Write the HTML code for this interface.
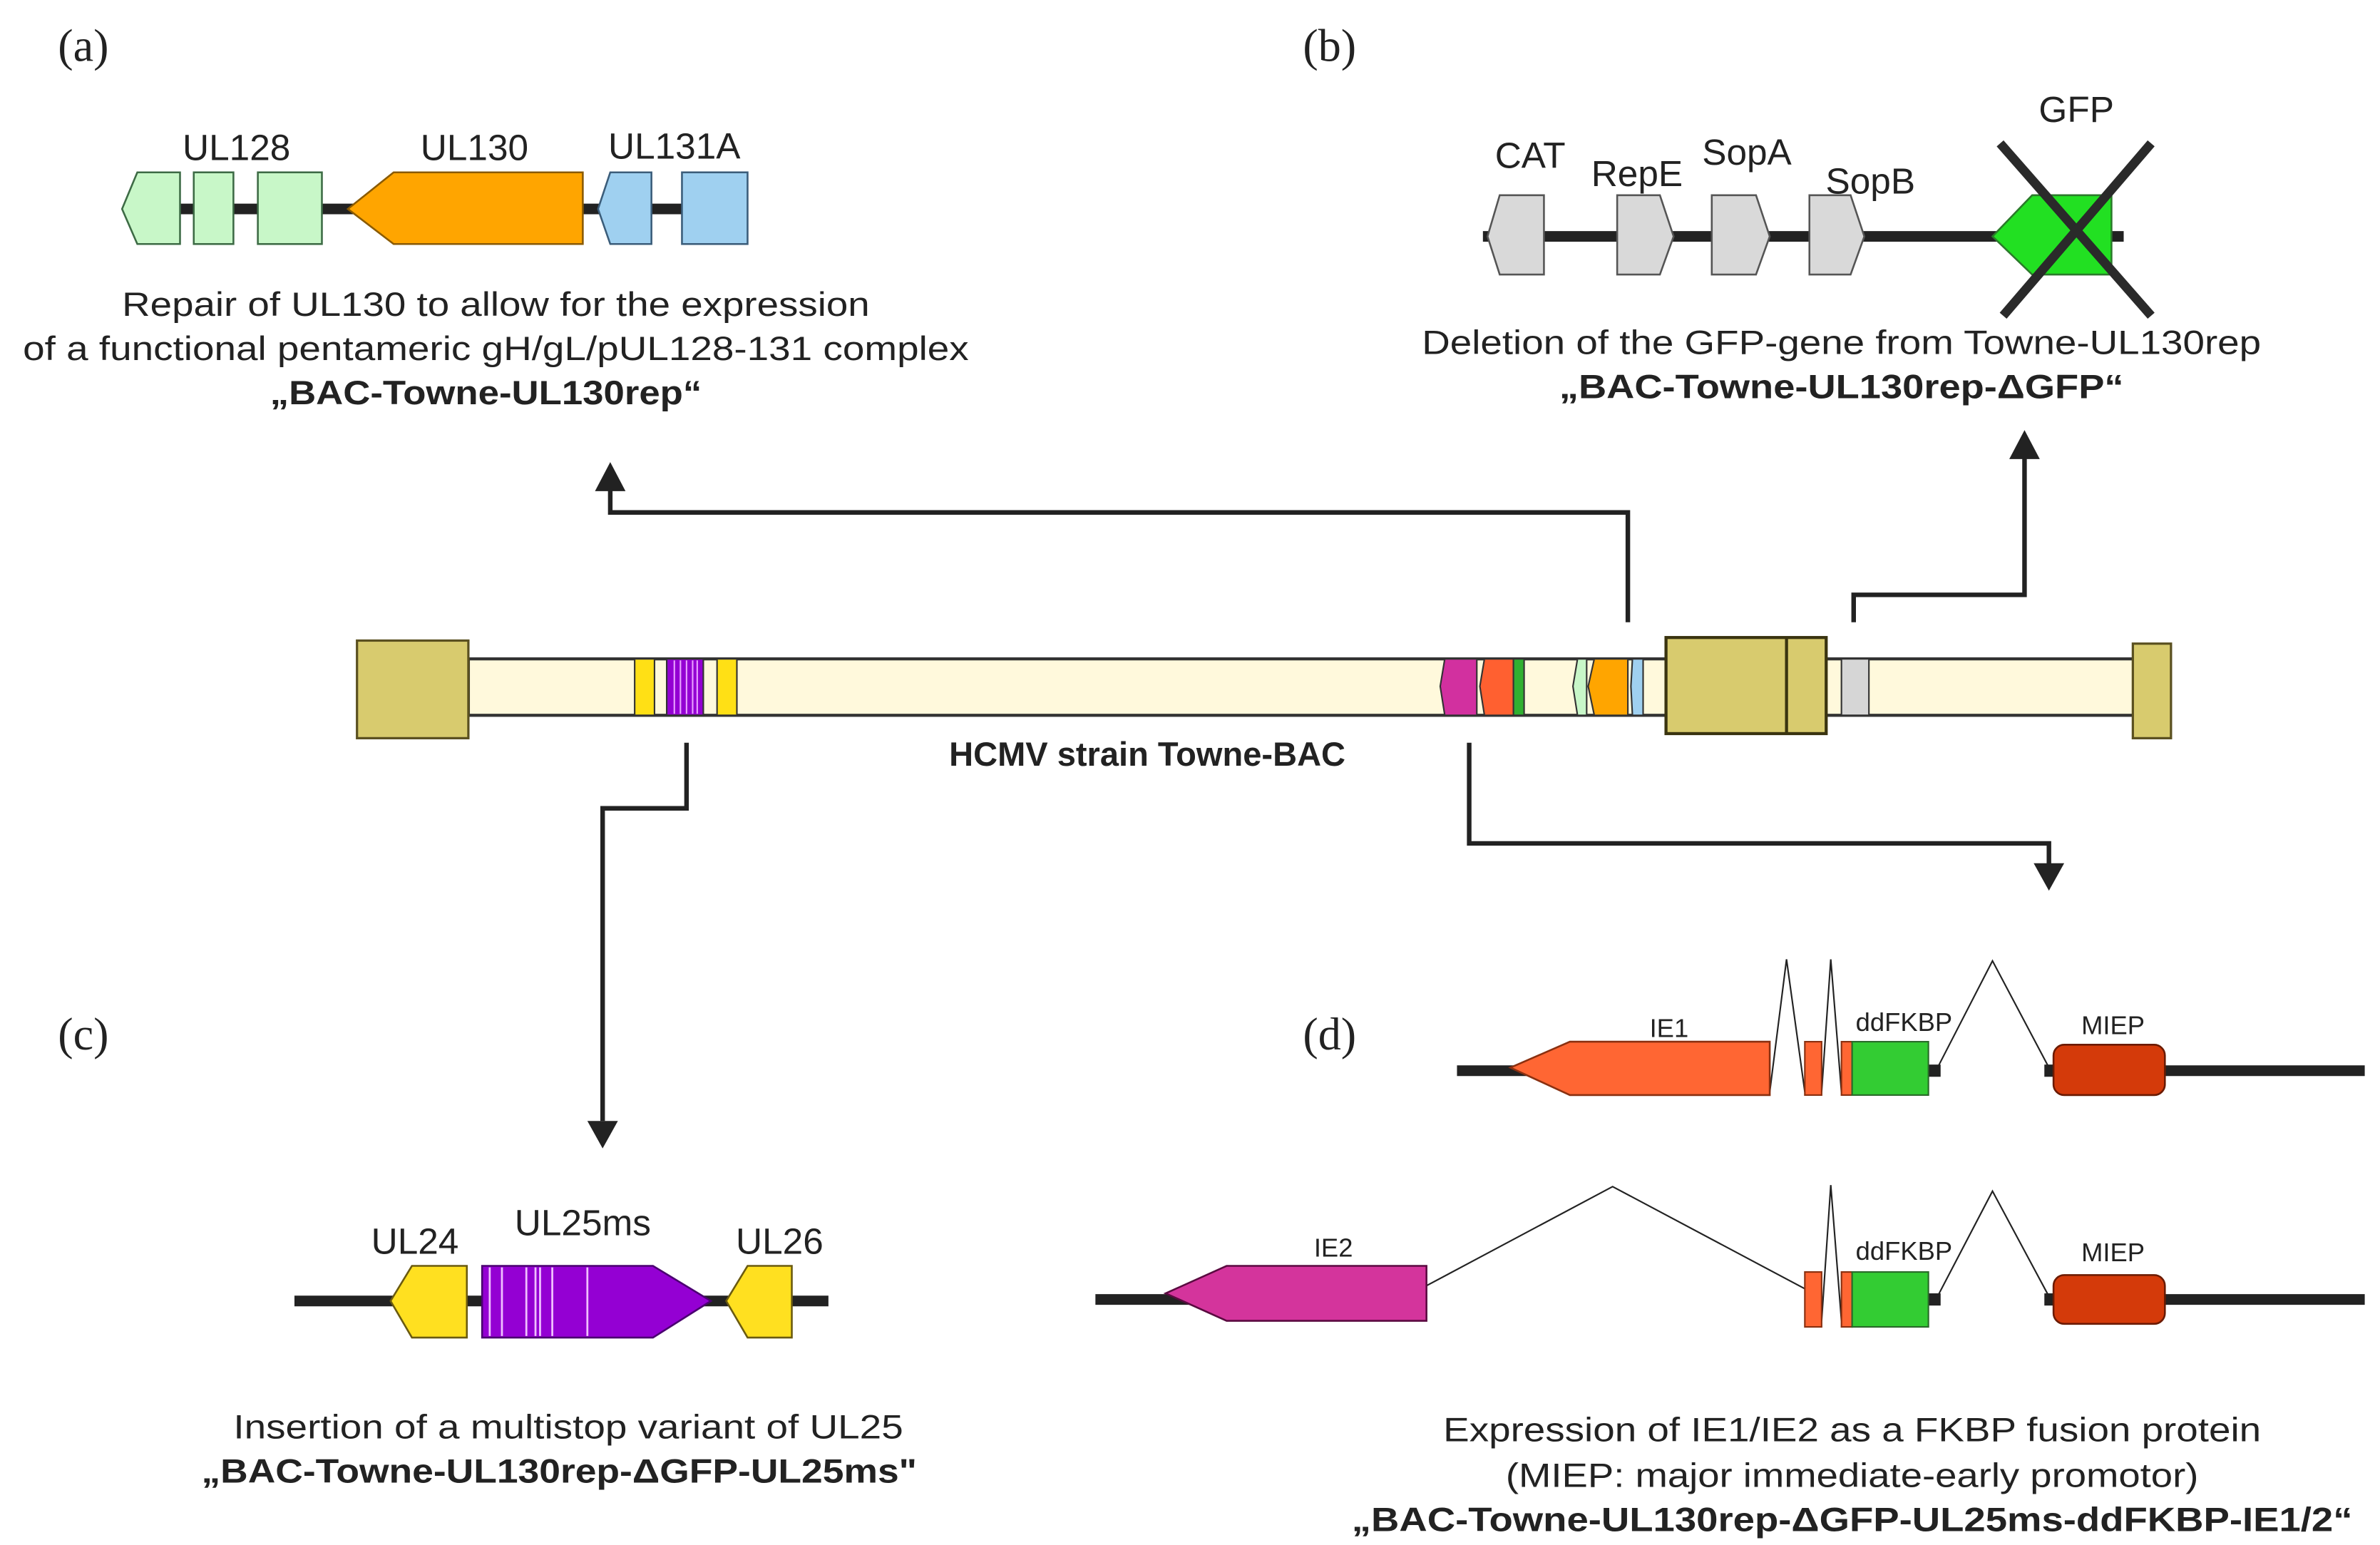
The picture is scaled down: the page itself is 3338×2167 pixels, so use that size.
<!DOCTYPE html>
<html><head><meta charset="utf-8"><style>html,body{margin:0;padding:0;background:#fff}svg{display:block}</style></head>
<body>
<svg xmlns="http://www.w3.org/2000/svg" width="3338" height="2167" viewBox="0 0 1560 1013" preserveAspectRatio="none" font-family="Liberation Sans, Arial, sans-serif">
<rect width="1560" height="1013" fill="#fff"/>
<g font-family="Liberation Serif, serif" font-size="30" fill="#222">
<text x="38" y="40">(a)</text><text x="854" y="40">(b)</text>
<text x="38" y="688">(c)</text><text x="854" y="688">(d)</text>
</g>

<!-- panel a -->
<line x1="82" y1="137" x2="490" y2="137" stroke="#222" stroke-width="7"/>
<g stroke="#3d6b45" stroke-width="1.2" fill="#c8f7c8">
<polygon points="80,137 90,113 118,113 118,160 90,160"/>
<rect x="127" y="113" width="26" height="47"/>
<rect x="169" y="113" width="42" height="47"/>
</g>
<polygon points="228,137 258,113 382,113 382,160 258,160" fill="#ffa500" stroke="#8a5a00" stroke-width="1.2"/>
<g stroke="#3b5d7a" stroke-width="1.2" fill="#9fd0f0">
<polygon points="392,137 400,113 427,113 427,160 400,160"/>
<rect x="447" y="113" width="43" height="47"/>
</g>
<g font-size="24" fill="#222" text-anchor="middle">
<text x="155" y="105">UL128</text><text x="311" y="105">UL130</text><text x="442" y="104">UL131A</text>
</g>
<g font-size="22" fill="#222">
<text x="80" y="207" textLength="490" lengthAdjust="spacingAndGlyphs">Repair of UL130 to allow for the expression</text>
<text x="15" y="236" textLength="620" lengthAdjust="spacingAndGlyphs">of a functional pentameric gH/gL/pUL128-131 complex</text>
<text x="177" y="265" font-weight="bold" textLength="283" lengthAdjust="spacingAndGlyphs">„BAC-Towne-UL130rep“</text>
</g>

<!-- panel b -->
<line x1="972" y1="155" x2="1392" y2="155" stroke="#222" stroke-width="7"/>
<g stroke="#555" stroke-width="1.2" fill="#d9d9d9">
<polygon points="975,155 983,128 1012,128 1012,180 983,180"/>
<polygon points="1060,128 1088,128 1097,155 1088,180 1060,180"/>
<polygon points="1122,128 1151,128 1160,155 1151,180 1122,180"/>
<polygon points="1186,128 1213,128 1222,155 1213,180 1186,180"/>
</g>
<polygon points="1306,155 1332,128 1384,128 1384,180 1332,180" fill="#22e022" stroke="#2a7a2a" stroke-width="1.2"/>
<g stroke="#2a2a2a" stroke-width="6">
<line x1="1311" y1="94" x2="1410" y2="207"/><line x1="1410" y1="94" x2="1313" y2="207"/>
</g>
<g font-size="24" fill="#222" text-anchor="middle">
<text x="1003" y="110">CAT</text><text x="1073" y="122">RepE</text><text x="1145" y="108">SopA</text><text x="1226" y="127">SopB</text><text x="1361" y="80">GFP</text>
</g>
<g font-size="22" fill="#222">
<text x="932" y="232" textLength="550" lengthAdjust="spacingAndGlyphs">Deletion of the GFP-gene from Towne-UL130rep</text>
<text x="1022" y="261" font-weight="bold" textLength="370" lengthAdjust="spacingAndGlyphs">„BAC-Towne-UL130rep-ΔGFP“</text>
</g>

<!-- connectors -->
<g stroke="#222" stroke-width="3" fill="none">
<polyline points="1067,408 1067,336 400,336 400,318"/>
<polyline points="1215,408 1215,390 1327,390 1327,300"/>
<polyline points="450,487 450,530 395,530 395,735"/>
<polyline points="963,487 963,553 1343,553 1343,567"/>
</g>
<g fill="#222">
<polygon points="400,303 390,322 410,322"/>
<polygon points="1327,282 1317,301 1337,301"/>
<polygon points="395,753 385,735 405,735"/>
<polygon points="1343,584 1333,566 1353,566"/>
</g>

<!-- main bar -->
<rect x="307" y="432" width="1092" height="37" fill="#fff9dc" stroke="#333" stroke-width="2"/>
<rect x="234" y="420" width="73" height="64" fill="#d8cb6e" stroke="#5a5020" stroke-width="1.5"/>
<rect x="1398" y="422" width="25" height="62" fill="#d8cb6e" stroke="#5a5020" stroke-width="1.5"/>
<rect x="1092" y="418" width="105" height="63" fill="#d8cb6e" stroke="#3a3410" stroke-width="2"/>
<line x1="1171" y1="418" x2="1171" y2="481" stroke="#3a3410" stroke-width="2"/>
<g stroke="#333" stroke-width="1">
<rect x="416" y="432" width="13" height="37" fill="#ffe015"/>
<rect x="437" y="432" width="24" height="37" fill="#9400d3"/>
<rect x="470" y="432" width="13" height="37" fill="#ffe015"/>
<polygon points="947,432 968,432 968,469 947,469 944,450" fill="#d2309f"/>
<polygon points="973,432 992,432 992,469 973,469 970,450" fill="#ff6030"/>
<rect x="992" y="432" width="7" height="37" fill="#30b030"/>
<polygon points="1034,432 1040,432 1040,469 1034,469 1031,450" fill="#c8f7c8"/>
<polygon points="1045,432 1067,432 1067,469 1045,469 1041,450" fill="#ffa500"/>
<polygon points="1070,432 1077,432 1077,469 1070,469 1069,450" fill="#9fd0f0"/>
<rect x="1207" y="432" width="18" height="37" fill="#d6d6d6"/>
</g>
<g stroke="#e8a0ff" stroke-width="1">
<line x1="442" y1="433" x2="442" y2="468"/><line x1="446" y1="433" x2="446" y2="468"/><line x1="450" y1="433" x2="450" y2="468"/><line x1="454" y1="433" x2="454" y2="468"/><line x1="457" y1="433" x2="457" y2="468"/>
</g>
<text x="752" y="502" font-size="22" font-weight="bold" fill="#222" text-anchor="middle">HCMV strain Towne-BAC</text>

<!-- panel c -->
<line x1="193" y1="853" x2="543" y2="853" stroke="#222" stroke-width="7"/>
<polygon points="256,853 270,830 306,830 306,877 270,877" fill="#ffe020" stroke="#6a5a10" stroke-width="1.2"/>
<polygon points="316,830 428,830 466,853 428,877 316,877" fill="#9400d3" stroke="#4a0070" stroke-width="1.2"/>
<g stroke="#f0c0ff" stroke-width="1.3">
<line x1="321" y1="831" x2="321" y2="876"/><line x1="329" y1="831" x2="329" y2="876"/><line x1="345" y1="831" x2="345" y2="876"/><line x1="351" y1="831" x2="351" y2="876"/><line x1="354" y1="831" x2="354" y2="876"/><line x1="362" y1="831" x2="362" y2="876"/><line x1="385" y1="831" x2="385" y2="876"/>
</g>
<polygon points="476,853 490,830 519,830 519,877 490,877" fill="#ffe020" stroke="#6a5a10" stroke-width="1.2"/>
<g font-size="24" fill="#222" text-anchor="middle">
<text x="272" y="822">UL24</text><text x="382" y="810">UL25ms</text><text x="511" y="822">UL26</text>
</g>
<g font-size="22" fill="#222">
<text x="153" y="943" textLength="439" lengthAdjust="spacingAndGlyphs">Insertion of a multistop variant of UL25</text>
<text x="132" y="972" font-weight="bold" textLength="469" lengthAdjust="spacingAndGlyphs">„BAC-Towne-UL130rep-ΔGFP-UL25ms"</text>
</g>

<!-- panel d row1 -->
<line x1="955" y1="702" x2="1550" y2="702" stroke="#222" stroke-width="7"/>
<rect x="1159" y="695" width="24" height="14" fill="#fff"/>
<rect x="1194" y="695" width="13" height="14" fill="#fff"/>
<rect x="1264" y="695" width="82" height="14" fill="#fff"/>
<rect x="1264" y="698" width="8" height="8" fill="#222"/>
<rect x="1340" y="698" width="8" height="8" fill="#222"/>
<g stroke="#222" stroke-width="1" fill="none">
<polyline points="1160,716 1171,629 1183,716"/>
<polyline points="1194,716 1200,629 1207,716"/>
<polyline points="1270,700 1306,630 1343,700"/>
</g>
<polygon points="990,700 1029,683 1160,683 1160,718 1029,718" fill="#ff6633" stroke="#8a3010" stroke-width="1.2"/>
<rect x="1183" y="683" width="11" height="35" fill="#ff6633" stroke="#8a3010" stroke-width="1"/>
<rect x="1207" y="683" width="7" height="35" fill="#ff6633" stroke="#8a3010" stroke-width="1"/>
<rect x="1214" y="683" width="50" height="35" fill="#33cc33" stroke="#2a6a2a" stroke-width="1"/>
<rect x="1346" y="685" width="73" height="33" rx="7" fill="#d43a0a" stroke="#6a1a00" stroke-width="1.2"/>
<g font-size="17" fill="#222" text-anchor="middle">
<text x="1094" y="680">IE1</text><text x="1248" y="676">ddFKBP</text><text x="1385" y="678">MIEP</text>
</g>

<!-- panel d row2 -->
<line x1="718" y1="852" x2="1550" y2="852" stroke="#222" stroke-width="7"/>
<rect x="935" y="845" width="248" height="14" fill="#fff"/>
<rect x="1194" y="845" width="13" height="14" fill="#fff"/>
<rect x="1264" y="845" width="82" height="14" fill="#fff"/>
<rect x="1264" y="848" width="8" height="8" fill="#222"/>
<rect x="1340" y="848" width="8" height="8" fill="#222"/>
<g stroke="#222" stroke-width="1" fill="none">
<polyline points="935,843 1057,778 1183,845"/>
<polyline points="1194,866 1200,777 1207,866"/>
<polyline points="1270,850 1306,781 1343,850"/>
</g>
<polygon points="764,848 804,830 935,830 935,866 804,866" fill="#d4349c" stroke="#5a0a40" stroke-width="1.2"/>
<rect x="1183" y="834" width="11" height="36" fill="#ff6633" stroke="#8a3010" stroke-width="1"/>
<rect x="1207" y="834" width="7" height="36" fill="#ff6633" stroke="#8a3010" stroke-width="1"/>
<rect x="1214" y="834" width="50" height="36" fill="#33cc33" stroke="#2a6a2a" stroke-width="1"/>
<rect x="1346" y="836" width="73" height="32" rx="7" fill="#d43a0a" stroke="#6a1a00" stroke-width="1.2"/>
<g font-size="17" fill="#222" text-anchor="middle">
<text x="874" y="824">IE2</text><text x="1248" y="826">ddFKBP</text><text x="1385" y="827">MIEP</text>
</g>
<g font-size="22" fill="#222">
<text x="946" y="945" textLength="536" lengthAdjust="spacingAndGlyphs">Expression of IE1/IE2 as a FKBP fusion protein</text>
<text x="987" y="975" textLength="454" lengthAdjust="spacingAndGlyphs">(MIEP: major immediate-early promotor)</text>
<text x="886" y="1004" font-weight="bold" textLength="656" lengthAdjust="spacingAndGlyphs">„BAC-Towne-UL130rep-ΔGFP-UL25ms-ddFKBP-IE1/2“</text>
</g>
</svg>
</body></html>
